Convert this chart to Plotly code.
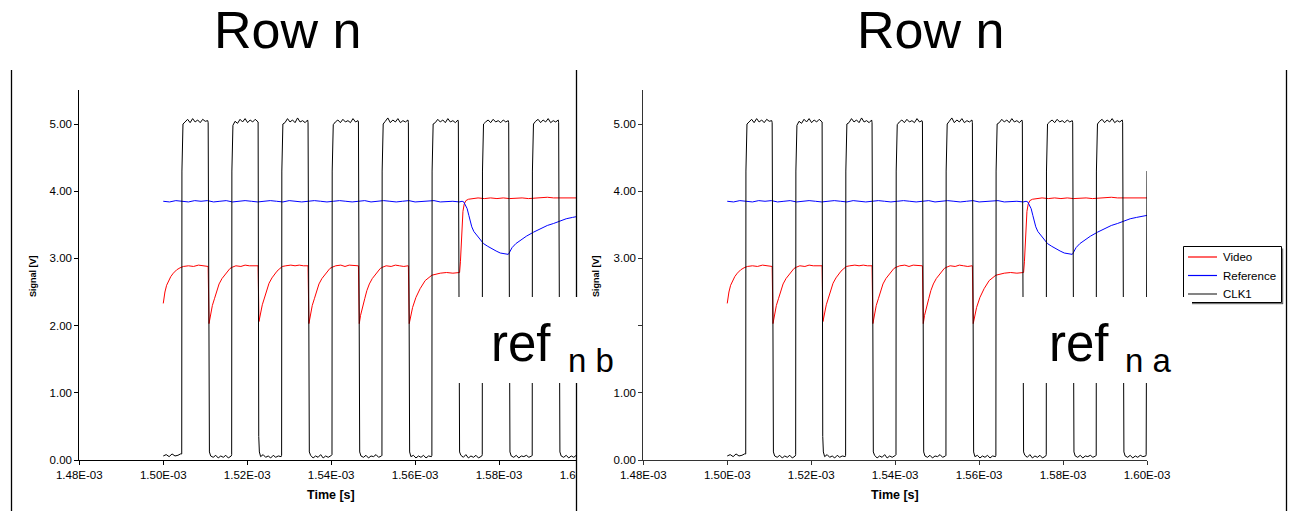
import plotly.graph_objects as go

W, H = 1294, 511
FONT = "Liberation Sans, Arial, sans-serif"

# ---------------- data (time in ms, signal in V) ----------------
clk_t_ms = [
    1.5000, 1.5007, 1.5014, 1.5021, 1.5028, 1.5035, 1.5041,
    1.50440, 1.50445, 1.50470, 1.5052, 1.5058, 1.5064, 1.5070, 1.5076, 1.5082, 1.5088, 1.5094, 1.5100, 1.5106,
    1.51070, 1.51085, 1.51100, 1.5113, 1.5119, 1.5125, 1.5131, 1.5137, 1.5143, 1.5149, 1.5155, 1.5162,
    1.51630, 1.51635, 1.51660, 1.5171, 1.5177, 1.5183, 1.5189, 1.5195, 1.5201, 1.5207, 1.5213, 1.5219, 1.5225,
    1.52260, 1.52275, 1.52290, 1.5232, 1.5238, 1.5244, 1.5250, 1.5256, 1.5262, 1.5268, 1.5274, 1.5281,
    1.52820, 1.52825, 1.52850, 1.5290, 1.5296, 1.5302, 1.5308, 1.5314, 1.5320, 1.5326, 1.5332, 1.5338, 1.5344,
    1.53450, 1.53465, 1.53480, 1.5351, 1.5357, 1.5363, 1.5369, 1.5375, 1.5381, 1.5387, 1.5393, 1.5401,
    1.54020, 1.54025, 1.54050, 1.5410, 1.5416, 1.5422, 1.5428, 1.5434, 1.5440, 1.5446, 1.5452, 1.5458, 1.5464,
    1.54650, 1.54665, 1.54680, 1.5471, 1.5477, 1.5483, 1.5489, 1.5495, 1.5501, 1.5507, 1.5513, 1.5520,
    1.55210, 1.55215, 1.55240, 1.5529, 1.5535, 1.5541, 1.5547, 1.5553, 1.5559, 1.5565, 1.5571, 1.5577, 1.5583,
    1.55840, 1.55855, 1.55870, 1.5590, 1.5596, 1.5602, 1.5608, 1.5614, 1.5620, 1.5626, 1.5632, 1.5639,
    1.56400, 1.56405, 1.56430, 1.5648, 1.5654, 1.5660, 1.5666, 1.5672, 1.5678, 1.5684, 1.5690, 1.5696, 1.5702,
    1.57030, 1.57045, 1.57060, 1.5709, 1.5715, 1.5721, 1.5727, 1.5733, 1.5739, 1.5745, 1.5751, 1.5759,
    1.57600, 1.57605, 1.57630, 1.5768, 1.5774, 1.5780, 1.5786, 1.5792, 1.5798, 1.5804, 1.5810, 1.5816, 1.5822,
    1.58230, 1.58245, 1.58260, 1.5829, 1.5835, 1.5841, 1.5847, 1.5853, 1.5859, 1.5865, 1.5871, 1.5878,
    1.58790, 1.58795, 1.58820, 1.5887, 1.5893, 1.5899, 1.5905, 1.5911, 1.5917, 1.5923, 1.5929, 1.5935, 1.5941,
    1.59420, 1.59435, 1.59450, 1.5948, 1.5954, 1.5960, 1.5966, 1.5972, 1.5978, 1.5984, 1.5990, 1.5997,
    1.59980, 1.60000,
]
clk_v = [
    0.06, 0.08, 0.05, 0.09, 0.06, 0.07, 0.09,
    0.09, 4.30, 5.00, 5.03, 5.07, 5.02, 5.08, 5.03, 5.06, 5.02, 5.07, 5.04, 5.05,
    5.02, 0.35, 0.12, 0.06, 0.04, 0.07, 0.03, 0.06, 0.04, 0.07, 0.03, 0.06,
    0.08, 4.30, 4.98, 5.04, 5.01, 5.07, 5.03, 5.08, 5.02, 5.06, 5.03, 5.07, 5.04,
    5.03, 0.35, 0.12, 0.05, 0.08, 0.04, 0.06, 0.03, 0.07, 0.04, 0.06, 0.05,
    0.07, 4.30, 5.00, 5.02, 5.08, 5.03, 5.06, 5.02, 5.09, 5.03, 5.05, 5.02, 5.06,
    5.02, 0.35, 0.12, 0.07, 0.03, 0.06, 0.04, 0.08, 0.03, 0.06, 0.04, 0.07,
    0.08, 4.30, 4.99, 5.03, 5.06, 5.02, 5.07, 5.03, 5.05, 5.02, 5.08, 5.03, 5.05,
    5.03, 0.35, 0.12, 0.06, 0.04, 0.07, 0.03, 0.06, 0.05, 0.08, 0.04, 0.06,
    0.07, 4.30, 5.00, 5.04, 5.09, 5.02, 5.06, 5.03, 5.08, 5.02, 5.05, 5.03, 5.06,
    5.02, 0.35, 0.12, 0.05, 0.07, 0.03, 0.06, 0.04, 0.07, 0.03, 0.06, 0.05,
    0.07, 4.30, 5.00, 5.02, 5.07, 5.03, 5.06, 5.02, 5.08, 5.03, 5.05, 5.02, 5.06,
    5.03, 0.35, 0.12, 0.07, 0.04, 0.08, 0.03, 0.06, 0.04, 0.07, 0.03, 0.06,
    0.08, 4.30, 5.00, 5.03, 5.06, 5.02, 5.07, 5.03, 5.05, 5.02, 5.06, 5.03, 5.05,
    5.02, 0.35, 0.12, 0.06, 0.04, 0.07, 0.03, 0.06, 0.05, 0.07, 0.04, 0.06,
    0.07, 4.30, 5.00, 5.04, 5.07, 5.02, 5.06, 5.03, 5.08, 5.02, 5.05, 5.03, 5.06,
    5.02, 0.35, 0.12, 0.06, 0.04, 0.07, 0.03, 0.06, 0.04, 0.07, 0.05, 0.06,
    0.08, 4.30,
]

video_t_ms = [
    1.5000, 1.5002, 1.5004, 1.5008, 1.5012, 1.5018, 1.5024, 1.5032, 1.5040, 1.5048, 1.5060, 1.5072, 1.5084, 1.5096, 1.5106,
    1.5107, 1.5109, 1.5112, 1.5117, 1.5122, 1.5127, 1.5133, 1.5140, 1.5147, 1.5152, 1.5159, 1.5165, 1.5173, 1.5185, 1.5195, 1.5205, 1.5215, 1.5225,
    1.5226, 1.5228, 1.5231, 1.5236, 1.5241, 1.5246, 1.5252, 1.5259, 1.5266, 1.5271, 1.5278, 1.5284, 1.5292, 1.5304, 1.5314, 1.5324, 1.5334, 1.5344,
    1.5345, 1.5347, 1.5350, 1.5355, 1.5360, 1.5365, 1.5371, 1.5378, 1.5385, 1.5390, 1.5397, 1.5403, 1.5411, 1.5423, 1.5433, 1.5443, 1.5453, 1.5464,
    1.5465, 1.5467, 1.5470, 1.5475, 1.5480, 1.5485, 1.5491, 1.5498, 1.5505, 1.5510, 1.5517, 1.5523, 1.5531, 1.5543, 1.5553, 1.5563, 1.5573, 1.5583,
    1.5584, 1.5586, 1.5589, 1.5594, 1.5602, 1.5612, 1.5624, 1.5640, 1.5660, 1.5675, 1.5690, 1.5700, 1.5706,
    1.5708, 1.5710, 1.5712, 1.5714, 1.5717, 1.5721, 1.5727, 1.5735,
    1.5750, 1.5765, 1.5780, 1.5795, 1.5810, 1.5825, 1.5840, 1.5855, 1.5870, 1.5885, 1.5900, 1.5915, 1.5930, 1.5945, 1.5960, 1.5975, 1.5990, 1.6000,
]
video_v = [
    2.33, 2.42, 2.50, 2.60, 2.66, 2.73, 2.78, 2.83, 2.86, 2.88, 2.89, 2.88, 2.90, 2.89, 2.89,
    2.88, 2.03, 2.15, 2.30, 2.40, 2.52, 2.62, 2.70, 2.76, 2.80, 2.85, 2.87, 2.89, 2.88, 2.90, 2.89, 2.89, 2.88,
    2.89, 2.06, 2.17, 2.31, 2.41, 2.53, 2.63, 2.71, 2.77, 2.81, 2.85, 2.88, 2.89, 2.90, 2.89, 2.90, 2.89, 2.89,
    2.89, 2.03, 2.15, 2.30, 2.40, 2.52, 2.62, 2.70, 2.76, 2.80, 2.85, 2.87, 2.89, 2.90, 2.88, 2.90, 2.89, 2.89,
    2.89, 2.03, 2.15, 2.30, 2.40, 2.52, 2.62, 2.70, 2.76, 2.80, 2.85, 2.87, 2.89, 2.88, 2.90, 2.89, 2.88, 2.89,
    2.89, 2.03, 2.14, 2.27, 2.42, 2.55, 2.67, 2.75, 2.78, 2.79, 2.78, 2.79, 2.79,
    2.95, 3.25, 3.52, 3.70, 3.81, 3.86, 3.88, 3.89,
    3.90, 3.89, 3.90, 3.89, 3.90, 3.89, 3.90, 3.90, 3.89, 3.90, 3.90, 3.91, 3.90, 3.90, 3.90, 3.90, 3.90, 3.90,
]

ref_t_ms = [
    1.5000, 1.5015, 1.5030, 1.5045, 1.5060, 1.5075, 1.5090, 1.5105, 1.5120, 1.5135, 1.5150, 1.5165, 1.5180, 1.5195,
    1.5210, 1.5225, 1.5240, 1.5255, 1.5270, 1.5285, 1.5300, 1.5315, 1.5330, 1.5345, 1.5360, 1.5375, 1.5390, 1.5405,
    1.5420, 1.5435, 1.5450, 1.5465, 1.5480, 1.5495, 1.5510, 1.5525, 1.5540, 1.5555, 1.5570, 1.5585, 1.5600, 1.5615,
    1.5630, 1.5645, 1.5660, 1.5675, 1.5690, 1.5705, 1.5712,
    1.5716, 1.5720, 1.5724, 1.5728, 1.5731, 1.5735, 1.5740, 1.5747, 1.5755, 1.5763, 1.5773, 1.5783, 1.5793, 1.5803, 1.5813, 1.5822,
    1.5824, 1.5827, 1.5831, 1.5840, 1.5851, 1.5865, 1.5882, 1.5900, 1.5915, 1.5930, 1.5945, 1.5960, 1.5975, 1.5982, 1.6000,
]
ref_v = [
    3.85, 3.84, 3.86, 3.85, 3.84, 3.86, 3.85, 3.86, 3.84, 3.85, 3.86, 3.84, 3.85, 3.86,
    3.85, 3.84, 3.85, 3.86, 3.85, 3.84, 3.86, 3.85, 3.84, 3.85, 3.86, 3.85, 3.84, 3.85,
    3.86, 3.85, 3.84, 3.85, 3.86, 3.84, 3.85, 3.86, 3.85, 3.84, 3.85, 3.86, 3.84, 3.85,
    3.85, 3.86, 3.84, 3.85, 3.85, 3.84, 3.85,
    3.84, 3.80, 3.74, 3.64, 3.55, 3.47, 3.40, 3.34, 3.27, 3.22, 3.18, 3.14, 3.11, 3.08, 3.07, 3.06,
    3.08, 3.12, 3.16, 3.22, 3.27, 3.33, 3.39, 3.45, 3.49, 3.52, 3.56, 3.59, 3.61, 3.62, 3.64,
]

series_names = ["Video", "Reference", "CLK1"]
series_colors = ["#FF0000", "#0000FF", "#000000"]

x_tick_vals_ms = [1.48, 1.50, 1.52, 1.54, 1.56, 1.58, 1.60]
x_tick_text = ["1.48E-03", "1.50E-03", "1.52E-03", "1.54E-03", "1.56E-03", "1.58E-03", "1.60E-03"]
y_tick_vals = [0, 1, 2, 3, 4, 5]
y_tick_text = ["0.00", "1.00", "2.00", "3.00", "4.00", "5.00"]
x_range_ms = [1.48, 1.60]
y_range = [0, 5.5]

panel_titles = ["Row n", "Row n"]
ref_main = ["ref", "ref"]
ref_sub = ["n b", "n a"]
x_title = "Time [s]"
y_title = "Signal [V]"

# ---------------- helpers ----------------
def X(px):
    return px / W

def Y(py):
    return 1 - py / H

to_s = lambda seq: [t * 1e-3 for t in seq]

series = [
    (to_s(video_t_ms), video_v),
    (to_s(ref_t_ms), ref_v),
    (to_s(clk_t_ms), clk_v),
]

fig = go.Figure()

for p in range(2):
    xa = "x" if p == 0 else "x2"
    ya = "y" if p == 0 else "y2"
    for (tx, vy), name, col in zip(series, series_names, series_colors):
        fig.add_trace(go.Scatter(
            x=tx, y=vy, mode="lines", name=name,
            line=dict(color=col, width=1),
            xaxis=xa, yaxis=ya,
            showlegend=False, hoverinfo="skip",
        ))

x_tickvals = to_s(x_tick_vals_ms)
x_rng = to_s(x_range_ms)

# panel geometry (pixels)
panels = [
    dict(x0=79.3, x1=583.0, axis_col="#000000"),
    dict(x0=643.3, x1=1147.0, axis_col="#333333"),
]
y_top, y_bot = 90.4, 460.0

tickfont = dict(family=FONT, size=11.5, color="#000000")
layout_axes = {}
for p, g in enumerate(panels):
    sx = "" if p == 0 else "2"
    ox = "3" if p == 0 else "4"
    xdom = [X(g["x0"]), X(g["x1"])]
    ydom = [Y(y_bot), Y(y_top)]
    common = dict(showgrid=False, zeroline=False, automargin=False, fixedrange=True)
    layout_axes["xaxis" + sx] = dict(
        domain=xdom, range=x_rng, anchor="y" + sx,
        tickmode="array", tickvals=x_tickvals, ticktext=x_tick_text,
        ticks="outside", ticklen=4, tickcolor=g["axis_col"], tickwidth=1,
        showline=True, linecolor=g["axis_col"], linewidth=1,
        tickfont=tickfont, **common,
    )
    layout_axes["yaxis" + sx] = dict(
        domain=ydom, range=y_range, anchor="x" + sx,
        tickmode="array", tickvals=y_tick_vals, ticktext=y_tick_text,
        ticks="outside", ticklen=4, tickcolor=g["axis_col"], tickwidth=1,
        showline=True, linecolor=g["axis_col"], linewidth=1,
        tickfont=tickfont, **common,
    )
    # overlay axes providing the inner half of the crossing tick marks
    layout_axes["xaxis" + ox] = dict(
        domain=xdom, range=x_rng, anchor="y" + sx, overlaying="x" + sx,
        tickmode="array", tickvals=x_tickvals,
        ticks="inside", ticklen=4, tickcolor=g["axis_col"], tickwidth=1,
        showticklabels=False, showline=False, **common,
    )
    layout_axes["yaxis" + ox] = dict(
        domain=ydom, range=y_range, anchor="x" + sx, overlaying="y" + sx,
        tickmode="array", tickvals=y_tick_vals,
        ticks="inside", ticklen=4, tickcolor=g["axis_col"], tickwidth=1,
        showticklabels=False, showline=False, **common,
    )

shapes = []
annotations = []

# white cover: right picture hides the overflow of the left picture
shapes.append(dict(type="rect", xref="paper", yref="paper", x0=X(576.5), x1=X(609), y0=Y(485), y1=Y(72),
                   fillcolor="white", line=dict(width=0), layer="above"))
# picture frame lines
for fx in (11.5, 576.5, 1286.5):
    shapes.append(dict(type="line", xref="paper", yref="paper", x0=X(fx), x1=X(fx), y0=Y(511), y1=Y(70),
                       line=dict(color="#000000", width=1.3), layer="above"))

# legend of the right picture (drawn by hand so it can be partly covered)
lx0, lx1, ly0, ly1 = 1183.5, 1281.5, 246.5, 302.5
shapes.append(dict(type="rect", xref="paper", yref="paper", x0=X(lx0), x1=X(lx1), y0=Y(ly1), y1=Y(ly0),
                   fillcolor="white", line=dict(color="#000000", width=1), layer="above"))
shapes.append(dict(type="line", xref="paper", yref="paper", x0=X(lx0 + 2), x1=X(lx1 + 1.5), y0=Y(ly1 + 1.2), y1=Y(ly1 + 1.2),
                   line=dict(color="#555555", width=1), layer="above"))
shapes.append(dict(type="line", xref="paper", yref="paper", x0=X(lx1 + 1.2), x1=X(lx1 + 1.2), y0=Y(ly1 + 1.5), y1=Y(ly0 + 2),
                   line=dict(color="#555555", width=1), layer="above"))
for i, (name, col) in enumerate(zip(series_names, series_colors)):
    iy = 257 + i * 18.5
    shapes.append(dict(type="line", xref="paper", yref="paper", x0=X(1188), x1=X(1217), y0=Y(iy), y1=Y(iy),
                       line=dict(color=col if col != "#000000" else "#333333", width=1.2), layer="above"))
    annotations.append(dict(xref="paper", yref="paper", x=X(1221), y=Y(iy), text=name, showarrow=False,
                            xanchor="left", yanchor="middle", font=dict(family=FONT, size=11.5, color="#000000")))

# white label boxes pasted over the pictures
for bx0, bx1 in ((457, 637), (1018, 1192)):
    shapes.append(dict(type="rect", xref="paper", yref="paper", x0=X(bx0), x1=X(bx1), y0=Y(383), y1=Y(297),
                       fillcolor="white", line=dict(width=0), layer="above"))

for cx, txt in zip((287.5, 930), panel_titles):
    annotations.append(dict(xref="paper", yref="paper", x=X(cx), y=Y(29.5), text=txt, showarrow=False,
                            xanchor="center", yanchor="middle", font=dict(family=FONT, size=52, color="#000000")))
for (mx, sx_), m, s in zip(((489, 566), (1047, 1123)), ref_main, ref_sub):
    annotations.append(dict(xref="paper", yref="paper", x=X(mx), y=Y(343), text=m, showarrow=False,
                            xanchor="left", yanchor="middle", font=dict(family=FONT, size=51, color="#000000")))
    annotations.append(dict(xref="paper", yref="paper", x=X(sx_), y=Y(360.5), text=s, showarrow=False,
                            xanchor="left", yanchor="middle", font=dict(family=FONT, size=33, color="#000000")))
for cx in (33, 596):
    annotations.append(dict(xref="paper", yref="paper", x=X(cx), y=Y(276), text="<b>" + y_title + "</b>",
                            showarrow=False, textangle=-90, xanchor="center", yanchor="middle",
                            font=dict(family=FONT, size=9, color="#000000")))
for cx in (331, 895):
    annotations.append(dict(xref="paper", yref="paper", x=X(cx), y=Y(495), text="<b>" + x_title + "</b>",
                            showarrow=False, xanchor="center", yanchor="middle",
                            font=dict(family=FONT, size=12.5, color="#000000")))

fig.update_layout(
    width=W, height=H, autosize=False,
    margin=dict(l=0, r=0, t=0, b=0, pad=0, autoexpand=False),
    paper_bgcolor="white", plot_bgcolor="rgba(0,0,0,0)",
    font=dict(family=FONT, color="#000000"),
    showlegend=False,
    shapes=shapes, annotations=annotations,
    **layout_axes,
)

fig.write_html(
    "out.html",
    config={"displayModeBar": False, "staticPlot": True},
    post_script="document.body.style.margin='0';document.body.style.overflow='hidden';",
)
